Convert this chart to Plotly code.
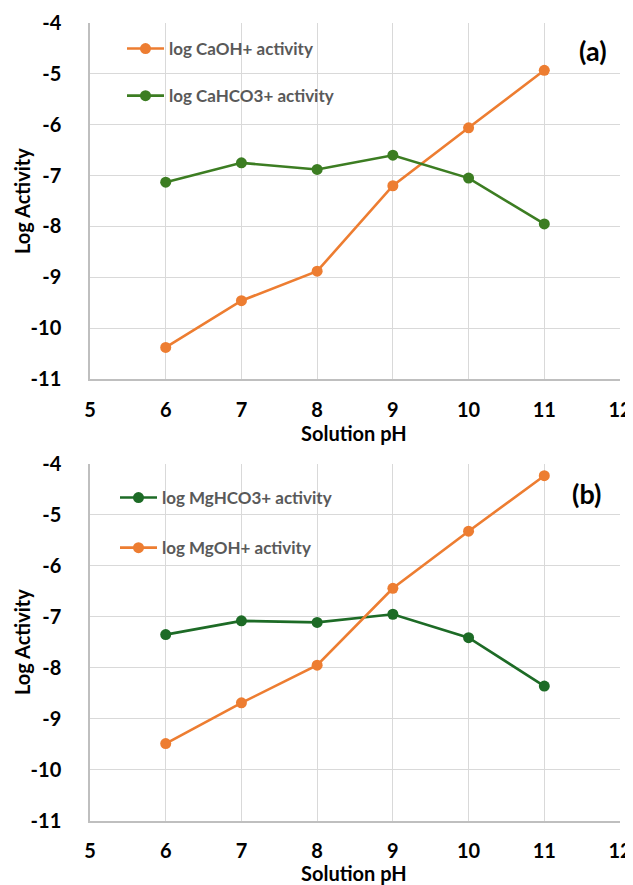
import plotly.graph_objects as go

ph = [6, 7, 8, 9, 10, 11]
caoh = [-10.38, -9.46, -8.88, -7.20, -6.06, -4.93]
cahco3 = [-7.13, -6.75, -6.88, -6.60, -7.05, -7.95]
mghco3 = [-7.35, -7.08, -7.11, -6.95, -7.41, -8.36]
mgoh = [-9.49, -8.69, -7.95, -6.44, -5.32, -4.23]

x_ticks = [5, 6, 7, 8, 9, 10, 11, 12]
y_ticks = [-4, -5, -6, -7, -8, -9, -10, -11]
y_ticktext = ["-4", "-5", "-6", "-7", "-8", "-9", "-10", "-11"]

ORANGE = "#ED7D31"
GREEN_A = "#3C7D22"
GREEN_B = "#1D6B26"
FONT = "Lato"

# page has an 8px body margin; figure coordinates = page coordinates - 8
W, H = 625, 877
fig = go.Figure()

def add(x, y, name, color, xa, ya, legend, group):
    fig.add_trace(go.Scatter(
        x=x, y=y, name=name, mode="lines+markers",
        line=dict(color=color, width=2.6),
        marker=dict(color=color, size=11),
        xaxis=xa, yaxis=ya, legend=legend, legendgroup=group,
    ))

add(ph, caoh, "log CaOH+ activity", ORANGE, "x", "y", "legend", "a1")
add(ph, cahco3, "log CaHCO3+ activity", GREEN_A, "x", "y", "legend", "a2")
add(ph, mghco3, "log MgHCO3+ activity", GREEN_B, "x2", "y2", "legend2", "b1")
add(ph, mgoh, "log MgOH+ activity", ORANGE, "x2", "y2", "legend2", "b2")

xdom = [82 / W, 612 / W]
dom_a = [1 - 371 / H, 1 - 15 / H]
dom_b = [1 - 812.5 / H, 1 - 456 / H]

tickfont = dict(family=FONT, size=20, color="black", weight="bold")
xcommon = dict(range=[5, 12], tickvals=x_ticks, showgrid=True, gridcolor="#D9D9D9",
               gridwidth=1.3, showline=True, linecolor="#BFBFBF", linewidth=1.5,
               zeroline=False, tickfont=tickfont, ticks="", ticklabelstandoff=12,
               domain=xdom, automargin=False)
ycommon = dict(range=[-11, -4], tickvals=y_ticks, ticktext=y_ticktext, showgrid=True,
               gridcolor="#D9D9D9", gridwidth=1.3, showline=True, linecolor="#BFBFBF",
               linewidth=1.5, zeroline=False, tickfont=tickfont, ticks="",
               ticklabelstandoff=23, automargin=False)

legfont = dict(family=FONT, size=17, color="#595959", weight="bold")

fig.update_layout(
    width=W, height=H,
    margin=dict(l=0, r=0, t=0, b=0),
    paper_bgcolor="white", plot_bgcolor="white",
    showlegend=True,
    xaxis=dict(**xcommon, anchor="y"),
    yaxis=dict(**ycommon, domain=dom_a, anchor="x"),
    xaxis2=dict(**xcommon, anchor="y2"),
    yaxis2=dict(**ycommon, domain=dom_b, anchor="x2"),
    legend=dict(x=114 / W, y=1 - 23 / H, xanchor="left", yanchor="top",
                font=legfont, bgcolor="rgba(0,0,0,0)", tracegroupgap=22,
                traceorder="grouped", itemwidth=37),
    legend2=dict(x=107 / W, y=1 - 472 / H, xanchor="left", yanchor="top",
                 font=legfont, bgcolor="rgba(0,0,0,0)", tracegroupgap=25,
                 traceorder="grouped", itemwidth=37),
)

titlefont = dict(family=FONT, size=20, color="black", weight="bold")
ann = [
    dict(text="(a)", x=584.5 / W, y=1 - 43 / H, font=dict(family=FONT, size=27, color="black", weight="bold")),
    dict(text="(b)", x=578 / W, y=1 - 485.5 / H, font=dict(family=FONT, size=27, color="black", weight="bold")),
    dict(text="Solution pH", x=346 / W, y=1 - 425 / H, font=titlefont),
    dict(text="Solution pH", x=346 / W, y=1 - 865 / H, font=titlefont),
    dict(text="Log Activity", x=14 / W, y=1 - 193 / H, font=titlefont, textangle=-90),
    dict(text="Log Activity", x=14 / W, y=1 - 634 / H, font=titlefont, textangle=-90),
]
for a in ann:
    fig.add_annotation(xref="paper", yref="paper", xanchor="center", yanchor="middle",
                       showarrow=False, **a)

fig.write_html("out.html")
